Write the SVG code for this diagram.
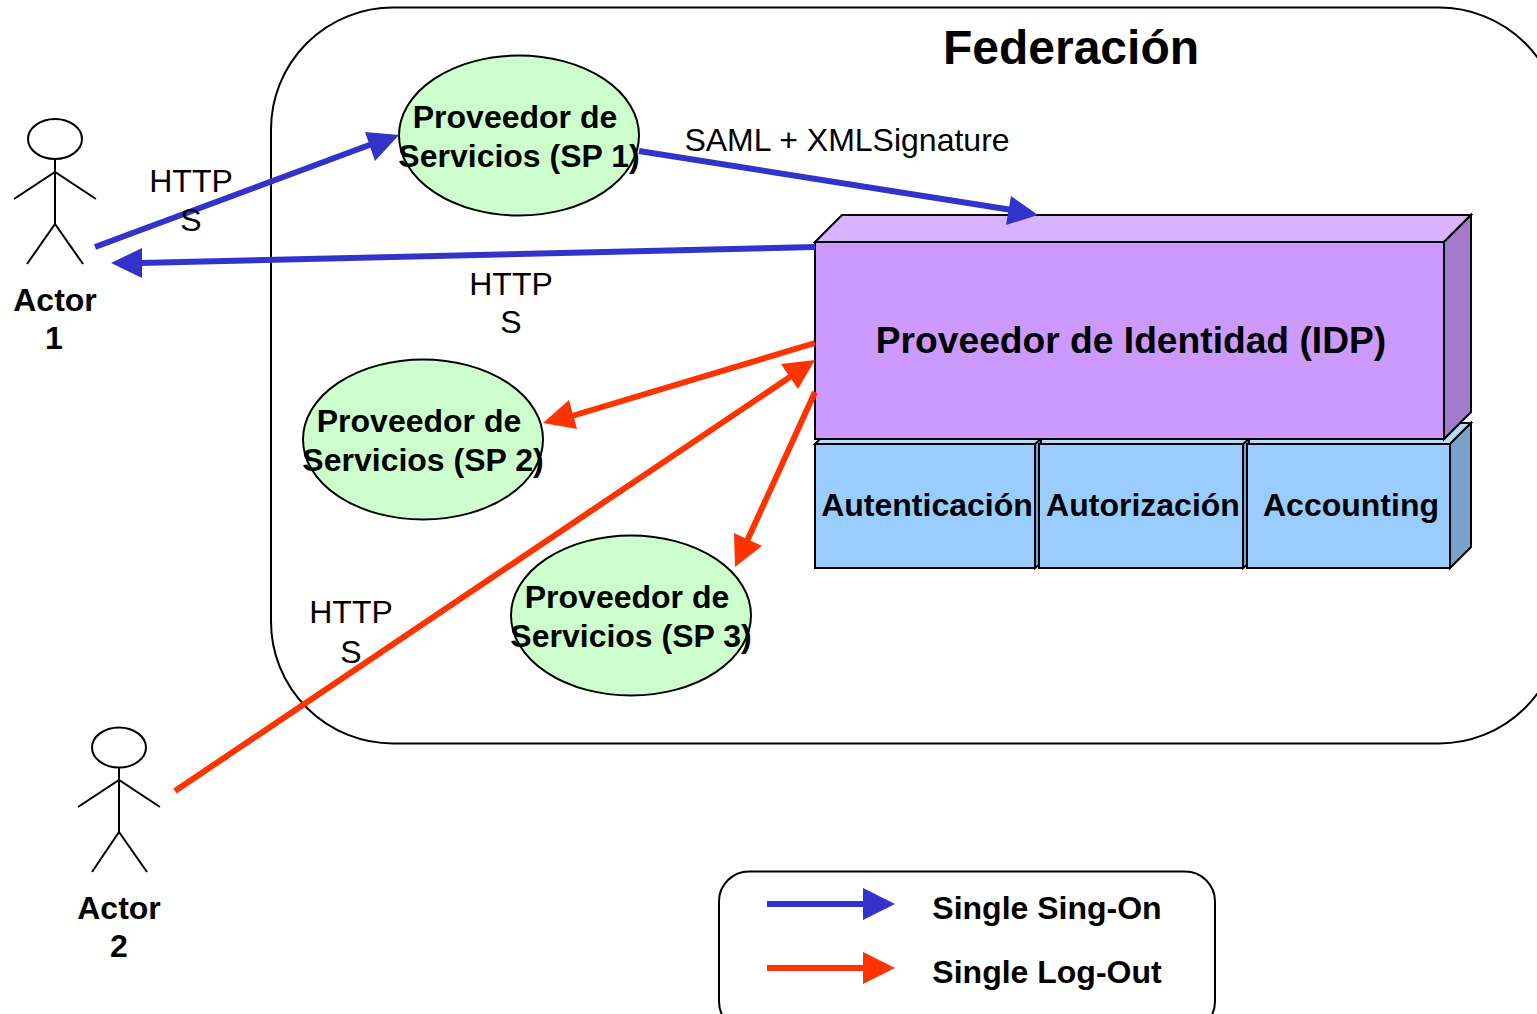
<svg xmlns="http://www.w3.org/2000/svg" width="1537" height="1014" viewBox="0 0 1537 1014">
<style>
text{font-family:"Liberation Sans",Arial,sans-serif;fill:#000;text-anchor:middle}
.b{font-weight:bold;font-size:32px}
.r{font-size:32px}
.o{stroke:#000;stroke-width:2;fill:none}
.sp{fill:#ccffcc;stroke:#000;stroke-width:2}
.blue{stroke:#3333cc;stroke-width:6;fill:none}
.red{stroke:#ff3300;stroke-width:6;fill:none}
.bh{fill:#3333cc}.rh{fill:#ff3300}
.box{fill:#99ccff;stroke:#000;stroke-width:2}
.boxt{fill:#b8dcff;stroke:#000;stroke-width:2}
.boxs{fill:#7aa3cc;stroke:#000;stroke-width:2}
</style>
<g id="federacion"><rect x="271" y="7.5" width="1290" height="736" rx="122" ry="122" fill="#fff" stroke="#000" stroke-width="2"/><text x="1071" y="64" font-size="48" font-weight="bold">Federación</text></g>
<g id="actor1" class="o"><ellipse cx="55" cy="139" rx="27" ry="20"/><path d="M55 159V224M14 199L55 172L96 199M27 264L55 224L83 264"/></g>
<g id="actor1-label"><text class="b" x="55" y="311">Actor</text><text class="b" x="54" y="349">1</text></g>
<g id="actor2" class="o"><ellipse cx="119" cy="747.5" rx="27" ry="20"/><path d="M119 767V832M78 807L119 780L160 807M92 872L119 832L147 872"/></g>
<g id="actor2-label"><text class="b" x="119" y="919">Actor</text><text class="b" x="119" y="957">2</text></g>
<g id="sp1"><ellipse class="sp" cx="519" cy="135.5" rx="120" ry="80"/><text class="b" x="515" y="128">Proveedor de</text><text class="b" x="519" y="167">Servicios (SP 1)</text></g>
<g id="sp2"><ellipse class="sp" cx="423" cy="439.5" rx="120" ry="80"/><text class="b" x="419" y="432">Proveedor de</text><text class="b" x="423" y="471">Servicios (SP 2)</text></g>
<g id="sp3"><ellipse class="sp" cx="631" cy="615.5" rx="120" ry="80"/><text class="b" x="627" y="608">Proveedor de</text><text class="b" x="631" y="647">Servicios (SP 3)</text></g>
<g id="services-base"><path class="boxt" d="M815 444L836 423H1471L1450 444Z"/><path class="boxs" d="M1450 444L1471 423V547L1450 568Z"/></g>
<g id="autenticacion"><rect class="box" x="815" y="444" width="220" height="124"/><path class="boxs" d="M1035 444L1041 439V563L1035 568Z"/><text class="b" x="927" y="516">Autenticación</text></g>
<g id="autorizacion"><rect class="box" x="1039" y="444" width="204" height="124"/><path class="boxs" d="M1243 444L1249 439V563L1243 568Z"/><text class="b" x="1143" y="516">Autorización</text></g>
<g id="accounting"><rect class="box" x="1247" y="444" width="203" height="124"/><text class="b" x="1351" y="516">Accounting</text></g>
<g id="idp"><path d="M815 242L842 215H1471L1444 242Z" fill="#d9b3ff" stroke="#000" stroke-width="2"/><path d="M1444 242L1471 215V412L1444 439Z" fill="#a37acc" stroke="#000" stroke-width="2"/><rect x="815" y="242" width="629" height="197" fill="#cc99ff" stroke="#000" stroke-width="2"/><text x="1131" y="353" font-size="37.2" font-weight="bold">Proveedor de Identidad (IDP)</text></g>
<g id="connectors">
<path class="blue" d="M95 247L372 144"/><path class="bh" d="M399 135L365 132L375 161Z"/>
<path class="blue" d="M639 151L1012 210"/><path class="bh" d="M1038 215L1011 196L1006 225Z"/>
<path class="blue" d="M815 247L140 263"/><path class="bh" d="M111 263L142 248V278Z"/>
<path class="red" d="M815 343L572 416"/><path class="rh" d="M543 423L569 400L577 429Z"/>
<path class="red" d="M175 791L790 377"/><path class="rh" d="M815 360L781 364L798 389Z"/>
<path class="red" d="M815 392L747 541"/><path class="rh" d="M735 567L734 533L762 546Z"/>
</g>
<g id="labels">
<text class="r" x="191" y="192">HTTP</text><text class="r" x="191" y="231">S</text>
<text class="r" x="847" y="151">SAML + XMLSignature</text>
<text class="r" x="511" y="295">HTTP</text><text class="r" x="511" y="333">S</text>
<text class="r" x="351" y="623">HTTP</text><text class="r" x="351" y="663">S</text>
</g>
<g id="legend"><rect x="719" y="871.5" width="496" height="160" rx="30" ry="30" fill="#fff" stroke="#000" stroke-width="2"/>
<path class="blue" d="M767 904H866"/><path class="bh" d="M895 904L863 888V920Z"/>
<path class="red" d="M767 968H866"/><path class="rh" d="M895 968L863 952V984Z"/>
<text class="b" x="1047" y="919">Single Sing-On</text><text class="b" x="1047" y="983">Single Log-Out</text></g>
</svg>
